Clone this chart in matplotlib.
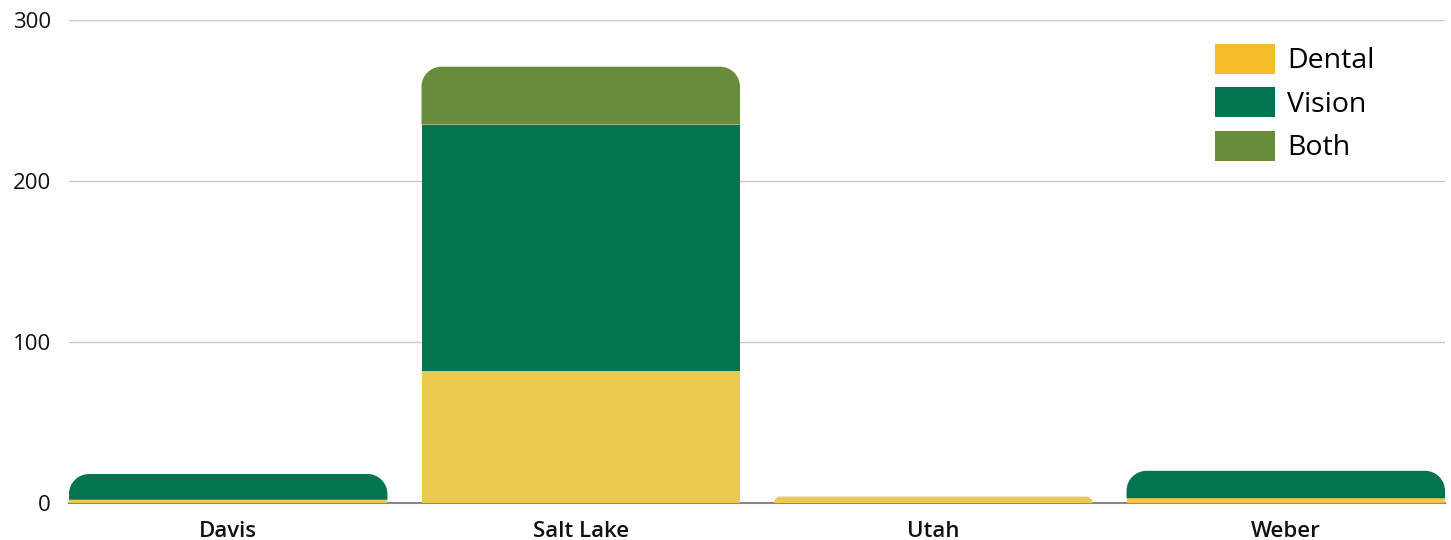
import matplotlib
matplotlib.use("Agg")
import matplotlib.pyplot as plt
from matplotlib.path import Path
from matplotlib.patches import PathPatch, Patch

counties = ["Davis", "Salt Lake", "Utah", "Weber"]
dental = [2, 82, 4, 3]
vision = [16, 153, 0, 17]
both = [0, 36, 0, 0]
series_names = ["Dental", "Vision", "Both"]
bar_colors = ["#EDC94F", "#03744F", "#678C3A"]
legend_colors = ["#F4BC26", "#03744F", "#678C3A"]
yticks = [0, 100, 200, 300]

plt.rcParams['font.family'] = ['Open Sans', 'DejaVu Sans']

W, H, DPI = 14.51, 5.40, 100
fig = plt.figure(figsize=(W, H), dpi=DPI)
ax = fig.add_axes([69/1451, 1-503/540, (1445-69)/1451, (503-20)/540])

x = list(range(len(counties)))
width = 318/352
ax.set_xlim(-width/2, len(counties) - 1 + width/2)
ax.set_ylim(0, 300)

bottoms = [0]*len(counties)
all_bars = []
for vals, col in zip([dental, vision, both], bar_colors):
    bars = ax.bar(x, vals, width=width, bottom=bottoms, color=col, zorder=3, linewidth=0)
    all_bars.append(bars)
    bottoms = [b + v for b, v in zip(bottoms, vals)]

fig.canvas.draw()
px_x = (ax.get_xlim()[1]-ax.get_xlim()[0]) / (ax.get_window_extent().width)
px_y = (ax.get_ylim()[1]-ax.get_ylim()[0]) / (ax.get_window_extent().height)
R = 20
K = 0.5523

for i in range(len(counties)):
    top_bar = None
    for bars in all_bars:
        b = bars[i]
        if b.get_height() > 0:
            top_bar = b
    if top_bar is None:
        continue
    x0 = top_bar.get_x(); w = top_bar.get_width()
    y0 = top_bar.get_y(); h = top_bar.get_height()
    rpx = min(R, h/px_y, (w/px_x)/2)
    rx = rpx*px_x; ry = rpx*px_y
    x1 = x0 + w; y1 = y0 + h
    verts = [(x0, y0), (x0, y1-ry),
             (x0, y1-ry+K*ry), (x0+rx-K*rx, y1), (x0+rx, y1),
             (x1-rx, y1),
             (x1-rx+K*rx, y1), (x1, y1-ry+K*ry), (x1, y1-ry),
             (x1, y0), (x0, y0)]
    codes = [Path.MOVETO, Path.LINETO,
             Path.CURVE4, Path.CURVE4, Path.CURVE4,
             Path.LINETO,
             Path.CURVE4, Path.CURVE4, Path.CURVE4,
             Path.LINETO, Path.CLOSEPOLY]
    patch = PathPatch(Path(verts, codes), facecolor=top_bar.get_facecolor(),
                      edgecolor='none', zorder=3)
    top_bar.remove()
    ax.add_patch(patch)

ax.set_yticks(yticks)
ax.set_yticklabels([str(t) for t in yticks], fontsize=16, color="#111111", fontweight='medium')
ax.set_xticks(x)
ax.set_xticklabels(counties, fontsize=16, color="#111111", fontweight='semibold')
ax.tick_params(axis='y', length=0, pad=13)
ax.tick_params(axis='x', length=0, pad=13)

ax.grid(axis='y', color="#C8C8C8", linewidth=1, zorder=0)
ax.set_axisbelow(True)
for s in ['top', 'right', 'left']:
    ax.spines[s].set_visible(False)
ax.spines['bottom'].set_color("#888888")
ax.spines['bottom'].set_linewidth(1.5)
ax.spines['bottom'].set_zorder(2)

fs = 20.5
fs_px = fs * DPI / 72
handles = [Patch(facecolor=c, edgecolor='none') for c in legend_colors]
leg = ax.legend(handles, series_names, loc='upper left',
                bbox_to_anchor=(1215/1451, 1-44/540), bbox_transform=fig.transFigure,
                frameon=False, fontsize=fs, handlelength=60/fs_px, handleheight=35/fs_px,
                labelspacing=0.42, handletextpad=12/fs_px, borderaxespad=0, borderpad=0)

fig.savefig("out.png", dpi=DPI)
